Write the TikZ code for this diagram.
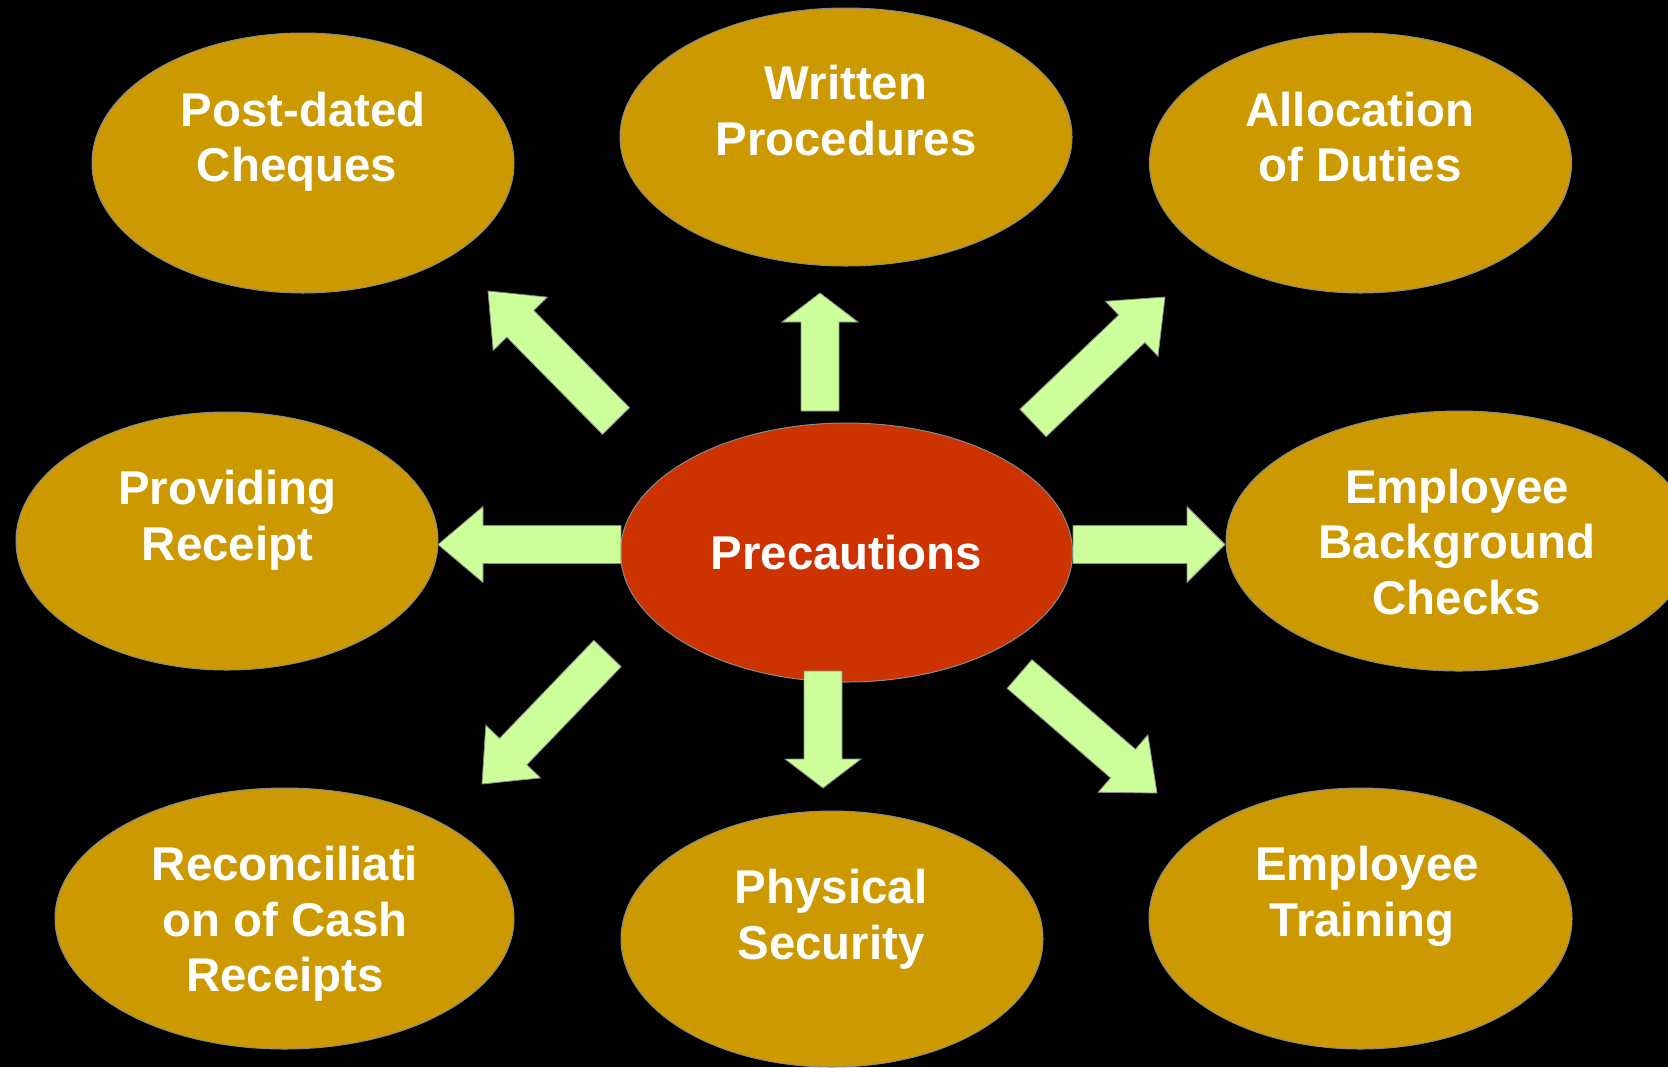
\documentclass[tikz,border=0pt]{standalone}
\usepackage{fontspec}
\setmainfont{Liberation Sans}
\usetikzlibrary{shapes.geometric,calc}
\definecolor{goldc}{HTML}{CC9900}
\definecolor{redc}{HTML}{CC3300}
\definecolor{arrc}{HTML}{CCFF99}
\definecolor{edgec}{HTML}{8A8A8A}
% block arrow from coordinate #1 to coordinate #2, head length #3
\newcommand\blockarrow[3]{%
  \coordinate (hb) at ($(#2)!#3!(#1)$);
  \filldraw[arrowbox]
    ($(#1)!9.5pt!90:(#2)$) -- ($(hb)!9.5pt!90:(#2)$) -- ($(hb)!19pt!90:(#2)$) --
    (#2) --
    ($(hb)!19pt!-90:(#2)$) -- ($(hb)!9.5pt!-90:(#2)$) -- ($(#1)!9.5pt!-90:(#2)$) -- cycle;}
\begin{document}
\begin{tikzpicture}[x=0.5pt,y=-0.5pt,
  goldel/.style={ellipse, draw=edgec, line width=0.5pt, fill=goldc, inner sep=0pt},
  redel/.style={ellipse, draw=edgec, line width=0.5pt, fill=redc, inner sep=0pt,
    text=white, font=\bfseries\fontsize{23.7}{27.75}\selectfont},
  lbl/.style={text=white, align=center, inner sep=0pt,
    font=\bfseries\fontsize{23.7}{27.75}\selectfont},
  arrowbox/.style={fill=arrc, draw=edgec, line width=0.4pt, line join=miter}]
\fill[black] (0,0) rectangle (1668,1067);
\clip (0,0) rectangle (1668,1067);

% ellipses
\node[goldel, minimum width=211pt, minimum height=130pt] (pd) at (303,163) {};
\node[goldel, minimum width=226pt, minimum height=129pt] (wp) at (846,137) {};
\node[goldel, minimum width=211pt, minimum height=130pt] (ad) at (1360.5,163) {};
\node[goldel, minimum width=211pt, minimum height=129pt] (pr) at (227,541) {};
\node[redel, minimum width=226pt, minimum height=129.5pt] (pc) at (846.5,552.5) {Precautions};
\node[goldel, minimum width=233pt, minimum height=130pt] (ebc) at (1459,541) {};
\node[goldel, minimum width=229.5pt, minimum height=130.5pt] (rcr) at (284.5,918.5) {};
\node[goldel, minimum width=211pt, minimum height=128pt] (ps) at (832,939) {};
\node[goldel, minimum width=211.5pt, minimum height=130.5pt] (et) at (1360.5,918.5) {};

% labels
\node[lbl] (pdt) at (303,141.75) {Post-dated\\Cheques\hspace*{6pt}};
\node[lbl] (wpt) at (846,110.5) {Written\\Procedures};
\node[lbl] (adt) at (1360,137) {Allocation\\of Duties};
\node[lbl] (prt) at (227.5,520) {Providing\\Receipt};
\node[lbl] (ebct) at (1457,542) {Employee\\Background\\Checks};
\node[lbl] (rcrt) at (285,924) {Reconciliati\\on of Cash\\Receipts};
\node[lbl] (pst) at (831,919) {Physical\\Security};
\node[lbl] (ett) at (1362,896.5) {\hspace*{5pt}Employee\\Training};

% arrow end points
\coordinate (uS) at (820,411);    \coordinate (uE) at (820,293);
\coordinate (lS) at (621,544.5);  \coordinate (lE) at (438,544.5);
\coordinate (rS) at (1073,544.5); \coordinate (rE) at (1225,544.5);
\coordinate (dS) at (823,671);    \coordinate (dE) at (823,788);
\coordinate (nwS) at (616,421);   \coordinate (nwE) at (488,291);
\coordinate (neS) at (1033,423);  \coordinate (neE) at (1165,297);
\coordinate (swS) at (607.5,653.5); \coordinate (swE) at (482,784);
\coordinate (seS) at (1019.5,674);  \coordinate (seE) at (1157,793);

\blockarrow{uS}{uE}{14.5pt}
\blockarrow{lS}{lE}{22.5pt}
\blockarrow{rS}{rE}{19pt}
\blockarrow{dS}{dE}{14.5pt}
\blockarrow{nwS}{nwE}{23pt}
\blockarrow{neS}{neE}{23pt}
\blockarrow{swS}{swE}{22.5pt}
\blockarrow{seS}{seE}{22.5pt}
\end{tikzpicture}
\end{document}
